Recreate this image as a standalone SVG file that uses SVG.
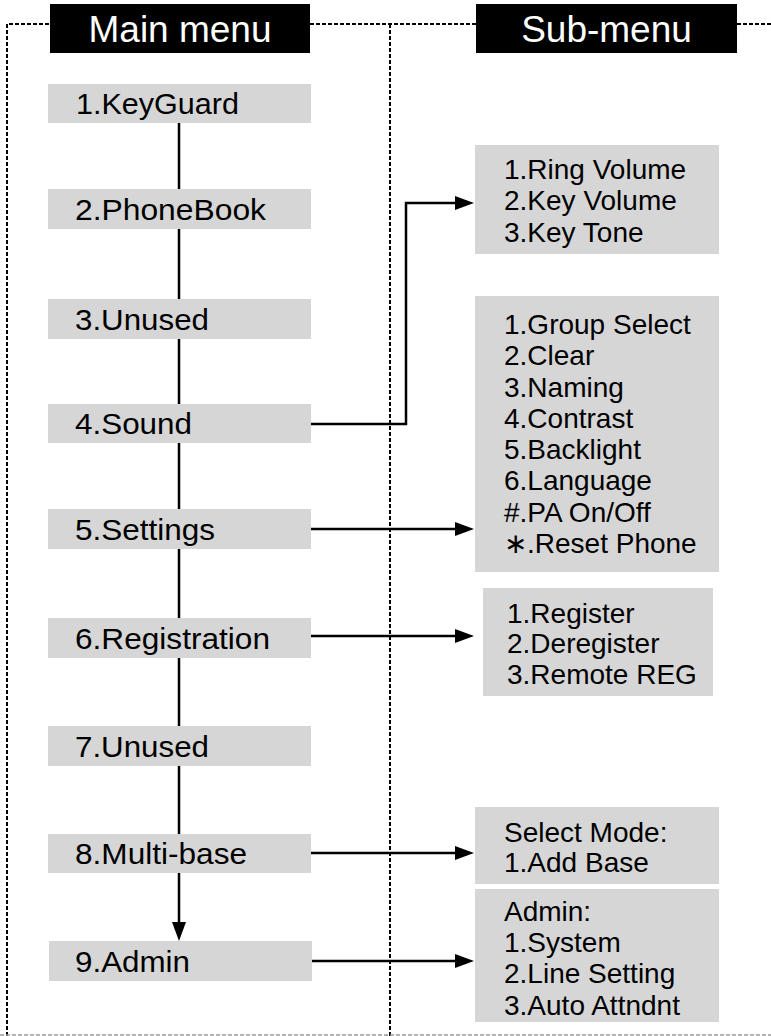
<svg xmlns="http://www.w3.org/2000/svg" width="771" height="1036" viewBox="0 0 771 1036">
<style>
.frame{fill:none;stroke:#000;stroke-width:2;stroke-dasharray:4,2}
.frame2{fill:none;stroke:#999;stroke-width:1.5;stroke-dasharray:4,2}
.hdr{fill:#000}
.hdrt{fill:#fff;font-family:"Liberation Sans",Arial,sans-serif;font-size:37px;text-anchor:middle}
.box{fill:#d6d6d6}
.mt{fill:#000;font-family:"Liberation Sans",Arial,sans-serif;font-size:29.5px}
.st{fill:#000;font-family:"Liberation Sans",Arial,sans-serif;font-size:28px}
.conn{fill:none;stroke:#000;stroke-width:2.5}
</style>
<defs>
<marker id="ah" viewBox="0 0 19 14" refX="1" refY="7" markerWidth="19" markerHeight="14" markerUnits="userSpaceOnUse" orient="auto">
<path d="M0,0 L19,7 L0,14 z" fill="#000"/>
</marker>
</defs>
<rect width="771" height="1036" fill="#fff"/>
<g id="frame">
<path class="frame" d="M7,1036 V24 H50 M310,24 H476 M737,24 H771 M390,24 V1036"/>
<path class="frame2" d="M0,1035 H771"/>
</g>
<g id="header-main"><rect class="hdr" x="50" y="4" width="260" height="49"/><text class="hdrt" x="180" y="42">Main menu</text></g>
<g id="header-sub"><rect class="hdr" x="476" y="4" width="261" height="49"/><text class="hdrt" x="606.5" y="42">Sub-menu</text></g>
<g id="connectors">
<path class="conn" d="M179,123 V923" marker-end="url(#ah)"/>
<path class="conn" d="M311,424 H406 V203 H456" marker-end="url(#ah)"/>
<path class="conn" d="M311,529 H456" marker-end="url(#ah)"/>
<path class="conn" d="M311,636 H456" marker-end="url(#ah)"/>
<path class="conn" d="M311,853 H456" marker-end="url(#ah)"/>
<path class="conn" d="M311,961 H456" marker-end="url(#ah)"/>
</g>
<g id="m1"><rect class="box" x="48" y="84" width="263" height="39"/><text class="mt" x="76" y="114" textLength="163" lengthAdjust="spacingAndGlyphs">1.KeyGuard</text></g>
<g id="m2"><rect class="box" x="48" y="189" width="263" height="40"/><text class="mt" x="75" y="220" textLength="191" lengthAdjust="spacingAndGlyphs">2.PhoneBook</text></g>
<g id="m3"><rect class="box" x="48" y="299" width="263" height="40"/><text class="mt" x="75" y="330" textLength="134" lengthAdjust="spacingAndGlyphs">3.Unused</text></g>
<g id="m4"><rect class="box" x="48" y="404" width="263" height="39"/><text class="mt" x="75" y="434" textLength="117" lengthAdjust="spacingAndGlyphs">4.Sound</text></g>
<g id="m5"><rect class="box" x="48" y="509" width="263" height="40"/><text class="mt" x="75" y="540" textLength="140" lengthAdjust="spacingAndGlyphs">5.Settings</text></g>
<g id="m6"><rect class="box" x="48" y="618" width="263" height="40"/><text class="mt" x="75" y="649" textLength="195" lengthAdjust="spacingAndGlyphs">6.Registration</text></g>
<g id="m7"><rect class="box" x="48" y="726" width="263" height="40"/><text class="mt" x="75" y="757" textLength="134" lengthAdjust="spacingAndGlyphs">7.Unused</text></g>
<g id="m8"><rect class="box" x="48" y="834" width="263" height="39"/><text class="mt" x="75" y="864" textLength="172" lengthAdjust="spacingAndGlyphs">8.Multi-base</text></g>
<g id="m9"><rect class="box" x="49" y="941" width="263" height="40"/><text class="mt" x="75" y="972" textLength="115" lengthAdjust="spacingAndGlyphs">9.Admin</text></g>
<g id="s-sound"><rect class="box" x="475" y="145" width="244" height="109"/>
<text class="st" x="504" y="179">1.Ring Volume</text>
<text class="st" x="504" y="210">2.Key Volume</text>
<text class="st" x="504" y="242">3.Key Tone</text></g>
<g id="s-settings"><rect class="box" x="475" y="296" width="244" height="276"/>
<text class="st" x="504" y="334">1.Group Select</text>
<text class="st" x="504" y="365">2.Clear</text>
<text class="st" x="504" y="397">3.Naming</text>
<text class="st" x="504" y="428">4.Contrast</text>
<text class="st" x="504" y="459">5.Backlight</text>
<text class="st" x="504" y="490">6.Language</text>
<text class="st" x="504" y="522">#.PA On/Off</text>
<text class="st" x="504" y="553">∗.Reset Phone</text></g>
<g id="s-registration"><rect class="box" x="483" y="588" width="230" height="108"/>
<text class="st" x="507" y="623">1.Register</text>
<text class="st" x="507" y="653">2.Deregister</text>
<text class="st" x="507" y="684">3.Remote REG</text></g>
<g id="s-multibase"><rect class="box" x="475" y="807" width="244" height="77"/>
<text class="st" x="504" y="842">Select Mode:</text>
<text class="st" x="504" y="872">1.Add Base</text></g>
<g id="s-admin"><rect class="box" x="475" y="889" width="244" height="133"/>
<text class="st" x="504" y="921">Admin:</text>
<text class="st" x="504" y="952">1.System</text>
<text class="st" x="504" y="983">2.Line Setting</text>
<text class="st" x="504" y="1015">3.Auto Attndnt</text></g>
</svg>
